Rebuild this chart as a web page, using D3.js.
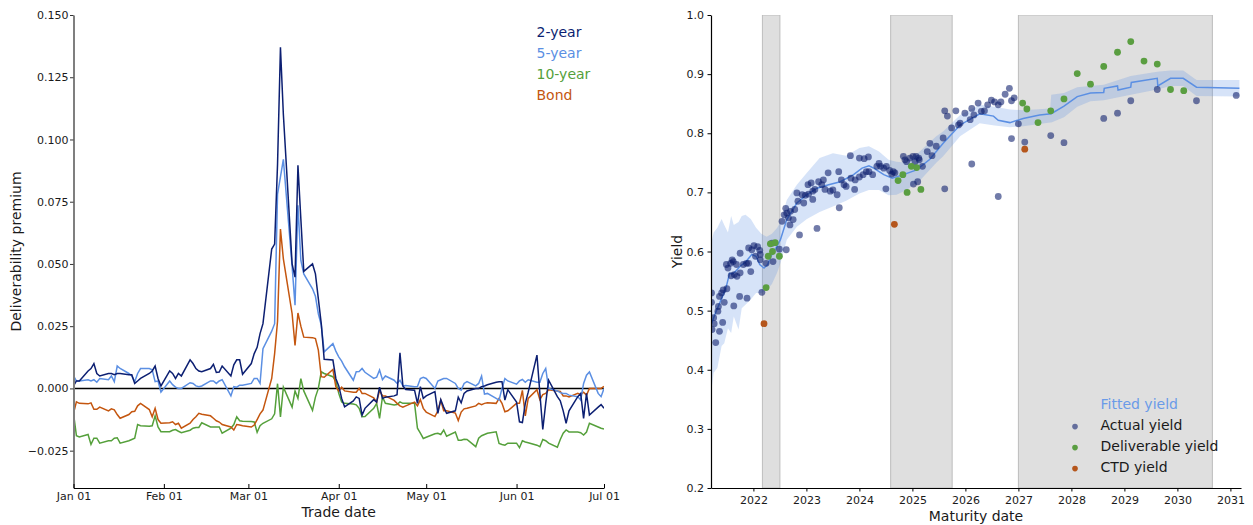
<!DOCTYPE html>
<html>
<head>
<meta charset="utf-8">
<script src="https://cdn.jsdelivr.net/npm/d3@7"></script>
<style>
  body { margin: 0; background: #fff; }
  svg { display: block; font-family: "DejaVu Sans", sans-serif; }
</style>
</head>
<body>
<svg id="chart" width="1253" height="525"></svg>
<script>
// ---------- Deliverability premium by trade date (2020) ----------
// Trading days, one value per weekday from 1 Jan to 1 Jul 2020.
const premiumStart = "2020-01-01";
const premiumEnd = "2020-07-01";
const premiumTicks = ["2020-01-01","2020-02-01","2020-03-01","2020-04-01","2020-05-01","2020-06-01","2020-07-01"];
const premiumYTicks = [-0.025, 0, 0.025, 0.05, 0.075, 0.1, 0.125, 0.15];
const seriesNames = ["2-year", "5-year", "10-year", "Bond"];

const twoYear = [
  0.001, 0.003, 0.003, 0.007, 0.008, 0.010, 0.006, 0.005, 0.006, 0.006, 0.0055, 0.006, 0.006, 0.0055, 0.0055, 0.002, 0.003, 0.004, 0.006, 0.007, 0.009, 0.004, 0.001,
  0.007, 0.006, 0.004, 0.006, 0.005, 0.0115, 0.010, 0.008, 0.007, 0.0067, 0.008, 0.0097, 0.0064, 0.0066, 0.009, 0.005, 0.0095, 0.0115, 0.0115, 0.0057,
  0.010, 0.014, 0.0165, 0.022, 0.026, 0.056, 0.058, 0.090, 0.137, 0.110, 0.050, 0.0447, 0.0896, 0.068, 0.047, 0.050, 0.046, 0.036, 0.026, 0.0117, 0.0114, 0.004,
  0.001, -0.004, -0.0074, -0.005, -0.0034, -0.004, -0.0107, -0.008, -0.0045, -0.0055, 0.0005, -0.004, -0.0035, -0.003, -0.0025, 0.0143, 0.001, -0.0004, -0.0007, -0.006, 0.0007, -0.004,
  -0.003, -0.0013, -0.010, -0.0045, -0.0075, -0.010, -0.009, -0.0035, -0.0058, -0.002, -0.001, 0.0, 0.0, 0.0007, 0.001, 0.0015, 0.0025, 0.0027, 0.0027, -0.0047, -0.0005,
  -0.0055, -0.0134, -0.0137, -0.006, -0.0015, 0.0134, -0.002, -0.0165, -0.006, 0.0033, -0.0033, -0.005, -0.009, -0.014, -0.009, -0.0033, -0.002, -0.012, -0.002, -0.0107, -0.0075, -0.0065,
  -0.008
];
const fiveYear = [
  0.005, 0.003, 0.003, 0.0035, 0.003, 0.0035, 0.0025, 0.004, 0.0035, 0.005, 0.0027, 0.009, 0.008, 0.006, 0.005, 0.0027, 0.006, 0.008, 0.008, 0.0075, 0.0027, 0.003, -0.0015,
  0.003, 0.0015, 0.0005, 0.0, 0.0, 0.0023, 0.002, 0.001, 0.0007, 0.001, 0.003, 0.003, 0.002, 0.003, 0.0035, -0.003, 0.0007, 0.0005, 0.0013, 0.0013,
  0.002, 0.004, 0.004, 0.002, 0.016, 0.023, 0.026, 0.078, 0.085, 0.092, 0.049, 0.0334, 0.0736, 0.0514, 0.046, 0.040, 0.037, 0.030, 0.0255, 0.0147, 0.018, 0.015,
  0.0127, 0.011, 0.0087, 0.0033, 0.0067, 0.0068, 0.008, 0.0065, 0.004, 0.0045, 0.0074, 0.0035, 0.005, 0.0033, 0.002, 0.0033, 0.001, 0.0012, 0.0007, 0.0008, 0.004, 0.0045,
  0.004, 0.0, 0.003, 0.0035, 0.004, 0.004, 0.002, 0.0, -0.0007, 0.002, 0.0027, 0.001, 0.002, 0.005, -0.0023, -0.002, -0.004, -0.0047, 0.0, 0.004, 0.003,
  0.0017, 0.003, 0.0036, 0.0025, 0.0035, 0.0025, 0.0025, 0.006, 0.008, 0.0, -0.001, -0.0017, -0.002, -0.002, -0.0027, -0.0033, -0.0047, 0.002, 0.0053, 0.0066, -0.002, -0.0033,
  0.0
];
const tenYear = [
  -0.010, -0.019, -0.0195, -0.0185, -0.0225, -0.020, -0.020, -0.022, -0.021, -0.021, -0.020, -0.0198, -0.022, -0.021, -0.0205, -0.020, -0.0145, -0.015, -0.0152, -0.015, -0.011, -0.0155, -0.0174,
  -0.0174, -0.0168, -0.0165, -0.0172, -0.0178, -0.0168, -0.016, -0.0157, -0.0157, -0.0138, -0.0155, -0.0155, -0.0155, -0.0155, -0.018, -0.016, -0.0145, -0.0114, -0.013, -0.0132,
  -0.0133, -0.0135, -0.0176, -0.015, -0.014, -0.0122, -0.0102, 0.0019, -0.0115, 0.0005, -0.0075, -0.001, -0.004, 0.0039, -0.001, -0.0088, -0.0035, 0.0, 0.0067, 0.006, 0.0047, 0.003,
  -0.002, -0.0054, -0.006, -0.0063, -0.0066, -0.008, -0.0114, -0.0113, -0.008, -0.006, -0.012, -0.0034, -0.006, -0.0067, -0.0065, -0.0054, -0.006, -0.006, -0.006, -0.016, -0.018, -0.0201,
  -0.0196, -0.0182, -0.018, -0.0185, -0.0167, -0.0192, -0.0175, -0.0208, -0.0208, -0.0204, -0.0205, -0.0234, -0.020, -0.019, -0.0185, -0.018, -0.0174, -0.0221, -0.0225, -0.0228, -0.022,
  -0.022, -0.0238, -0.021, -0.0215, -0.0218, -0.0228, -0.0234, -0.0205, -0.021, -0.022, -0.0236, -0.0205, -0.018, -0.0167, -0.0175, -0.0175, -0.0178, -0.0187, -0.0175, -0.014, -0.0155, -0.016,
  -0.0163
];
const bond = [
  -0.010, -0.0054, -0.006, -0.0062, -0.0058, -0.0084, -0.0084, -0.0075, -0.009, -0.0082, -0.0086, -0.0105, -0.012, -0.0105, -0.0094, -0.0092, -0.007, -0.006, -0.0085, -0.0114, -0.008, -0.0125, -0.014,
  -0.0138, -0.0134, -0.0145, -0.014, -0.016, -0.014, -0.0125, -0.0114, -0.010, -0.0104, -0.011, -0.012, -0.013, -0.0135, -0.0145, -0.0155, -0.0167, -0.0145, -0.0147, -0.015,
  -0.0155, -0.0147, -0.0125, -0.0102, -0.0087, 0.004, 0.014, 0.027, 0.064, 0.052, 0.030, 0.0173, 0.0303, 0.025, 0.0206, 0.0204, 0.020, 0.0154, 0.0047, 0.0045, 0.0076, 0.0007,
  -0.001, 0.0005, -0.001, -0.0015, -0.0015, 0.0, -0.002, -0.002, -0.0038, -0.0055, -0.0008, -0.003, -0.003, -0.0048, -0.006, -0.007, -0.0075, -0.007, -0.0055, -0.007, -0.0045, -0.008,
  -0.0095, -0.0113, -0.009, -0.0048, -0.009, -0.009, -0.0099, -0.0129, -0.0095, -0.0082, -0.008, -0.007, -0.006, -0.0065, -0.006, -0.0058, -0.006, -0.004, -0.006, -0.0094, -0.009,
  -0.006, -0.006, -0.0008, -0.011, -0.004, -0.0005, -0.0045, -0.0025, -0.002, -0.0005, -0.001, -0.0012, -0.003, -0.003, -0.0034, -0.002, -0.0025, -0.0015, -0.0027, 0.0, 0.0, 0.0,
  0.0008
];
const seriesColors = ["#0c1f72", "#5b8fe3", "#55a03b", "#c4560f"];

// ---------- Yield curve by maturity ----------
const maturityTicks = [2022, 2023, 2024, 2025, 2026, 2027, 2028, 2029, 2030, 2031];
const yieldTicks = [0.2, 0.3, 0.4, 0.5, 0.6, 0.7, 0.8, 0.9, 1.0];
// Deliverable maturity windows (start, end) in years
const windowStart = [2022.17, 2024.59, 2027.0];
const windowEnd = [2022.50, 2025.75, 2030.66];

const actualMaturity = [
  2021.21, 2021.21, 2021.22, 2021.25, 2021.26, 2021.29, 2021.33, 2021.34, 2021.36, 2021.36, 2021.40, 2021.42, 2021.43, 2021.45, 2021.49,
  2021.50, 2021.52, 2021.57, 2021.58, 2021.60, 2021.62, 2021.63, 2021.64, 2021.68, 2021.69, 2021.74, 2021.75, 2021.75, 2021.81, 2021.87,
  2021.88, 2021.91, 2021.91, 2021.95, 2021.97, 2022.01, 2022.04, 2022.08, 2022.12, 2022.13, 2022.13, 2022.16, 2022.24, 2022.35, 2022.37,
  2022.49, 2022.54, 2022.58, 2022.61, 2022.62, 2022.63, 2022.66, 2022.69, 2022.70, 2022.75, 2022.78, 2022.82, 2022.84, 2022.87, 2022.92,
  2022.95, 2022.98, 2023.03, 2023.04, 2023.09, 2023.12, 2023.12, 2023.16, 2023.20, 2023.23, 2023.29, 2023.32, 2023.35, 2023.41, 2023.45,
  2023.50, 2023.58, 2023.61, 2023.62, 2023.66, 2023.71, 2023.75, 2023.83, 2023.84, 2023.91, 2023.92, 2024.00, 2024.00, 2024.07, 2024.09,
  2024.13, 2024.17, 2024.18, 2024.25, 2024.33, 2024.37, 2024.40, 2024.46, 2024.50, 2024.51, 2024.57, 2024.61, 2024.64, 2024.67, 2024.83,
  2024.86, 2024.89, 2024.95, 2025.01, 2025.02, 2025.05, 2025.07, 2025.10, 2025.12, 2025.13, 2025.19, 2025.28, 2025.33, 2025.37, 2025.45,
  2025.58, 2025.61, 2025.61, 2025.66, 2025.74, 2025.82, 2025.87, 2025.90, 2025.99, 2026.09, 2026.12, 2026.12, 2026.16, 2026.24, 2026.30,
  2026.36, 2026.42, 2026.49, 2026.55, 2026.62, 2026.62, 2026.67, 2026.75, 2026.83, 2026.87, 2026.87, 2026.92, 2027.00, 2027.12, 2027.61,
  2027.86, 2028.61, 2028.87, 2029.12, 2029.62, 2030.36, 2031.11
];
const actualYield = [
  0.530, 0.514, 0.468, 0.488, 0.478, 0.446, 0.499, 0.507, 0.465, 0.524, 0.530, 0.480, 0.535, 0.514, 0.578,
  0.537, 0.572, 0.580, 0.559, 0.586, 0.583, 0.508, 0.561, 0.578, 0.558, 0.524, 0.597, 0.564, 0.578, 0.580,
  0.521, 0.580, 0.606, 0.566, 0.603, 0.610, 0.592, 0.608, 0.602, 0.586, 0.595, 0.531, 0.580, 0.614, 0.583,
  0.604, 0.651, 0.662, 0.673, 0.603, 0.665, 0.657, 0.645, 0.668, 0.654, 0.671, 0.699, 0.685, 0.628, 0.696,
  0.682, 0.695, 0.713, 0.697, 0.716, 0.688, 0.702, 0.705, 0.639, 0.718, 0.713, 0.721, 0.705, 0.733, 0.702,
  0.704, 0.696, 0.735, 0.674, 0.721, 0.713, 0.710, 0.762, 0.724, 0.705, 0.721, 0.726, 0.758, 0.730, 0.757,
  0.735, 0.760, 0.735, 0.730, 0.744, 0.749, 0.744, 0.741, 0.706, 0.744, 0.737, 0.731, 0.735, 0.733, 0.761,
  0.755, 0.752, 0.758, 0.761, 0.714, 0.752, 0.761, 0.718, 0.758, 0.755, 0.744, 0.769, 0.783, 0.762, 0.778,
  0.792, 0.838, 0.706, 0.829, 0.809, 0.838, 0.814, 0.817, 0.834, 0.823, 0.842, 0.748, 0.831, 0.851, 0.837,
  0.838, 0.848, 0.856, 0.853, 0.848, 0.693, 0.853, 0.866, 0.876, 0.855, 0.791, 0.860, 0.816, 0.785, 0.796,
  0.784, 0.825, 0.834, 0.855, 0.874, 0.855, 0.864
];
const deliverableMaturity = [
  2022.24, 2022.28, 2022.32, 2022.36, 2022.41, 2022.49,
  2024.73, 2024.82, 2024.90, 2024.98, 2025.08, 2025.16,
  2027.08, 2027.16, 2027.37, 2027.61, 2027.86, 2028.11, 2028.36, 2028.61, 2028.87, 2029.12, 2029.37, 2029.62, 2029.87, 2030.12
];
const deliverableYield = [
  0.539, 0.592, 0.613, 0.600, 0.615, 0.592,
  0.720, 0.730, 0.700, 0.744, 0.742, 0.705,
  0.851, 0.841, 0.818, 0.838, 0.858, 0.901, 0.883, 0.913, 0.937, 0.955, 0.922, 0.917, 0.874, 0.872
];
const ctdMaturity = [2022.20, 2024.66, 2027.12];
const ctdYield = [0.478, 0.646, 0.773];

const fittedMaturity = [
  2021.21, 2021.28, 2021.35, 2021.42, 2021.49, 2021.55, 2021.60, 2021.66, 2021.75, 2021.85, 2021.97, 2022.05, 2022.12, 2022.20,
  2022.27, 2022.33, 2022.42, 2022.51, 2022.63, 2022.82, 2023.01, 2023.20, 2023.42, 2023.64, 2023.89, 2024.05, 2024.18, 2024.27,
  2024.46, 2024.62, 2024.83, 2025.08, 2025.33, 2025.58, 2025.90, 2026.27, 2026.53, 2026.62, 2026.84, 2027.09, 2027.40, 2027.62,
  2027.86, 2028.11, 2028.36, 2028.61, 2028.62, 2028.87, 2028.88, 2029.12, 2029.13, 2029.62, 2029.63, 2029.87, 2030.11, 2030.36, 2031.17
];
const fittedYield = [
  0.478, 0.495, 0.510, 0.525, 0.541, 0.563, 0.562, 0.566, 0.575, 0.582, 0.595, 0.592, 0.578, 0.572,
  0.578, 0.592, 0.605, 0.620, 0.654, 0.682, 0.696, 0.707, 0.713, 0.718, 0.730, 0.741, 0.745, 0.741,
  0.730, 0.724, 0.730, 0.738, 0.756, 0.783, 0.814, 0.833, 0.829, 0.822, 0.818, 0.825, 0.831, 0.833,
  0.846, 0.862, 0.868, 0.869, 0.876, 0.880, 0.873, 0.878, 0.886, 0.893, 0.880, 0.893, 0.893, 0.878, 0.876
];
const bandMaturity = [
  2021.20, 2021.25, 2021.32, 2021.40, 2021.45, 2021.52, 2021.58, 2021.63, 2021.72, 2021.78, 2021.85, 2021.95, 2022.05, 2022.15,
  2022.25, 2022.35, 2022.45, 2022.51, 2022.63, 2022.82, 2023.01, 2023.25, 2023.50, 2023.75, 2024.00, 2024.18, 2024.37, 2024.55,
  2024.70, 2024.89, 2025.15, 2025.45, 2025.58, 2025.90, 2026.27, 2026.55, 2026.84, 2027.09, 2027.60, 2027.62, 2027.86, 2028.11,
  2028.36, 2028.61, 2029.12, 2029.62, 2029.87, 2030.11, 2030.36, 2031.17
];
const bandLow = [
  0.360, 0.395, 0.403, 0.440, 0.445, 0.470, 0.462, 0.490, 0.468, 0.504, 0.510, 0.519, 0.530, 0.530,
  0.535, 0.545, 0.565, 0.580, 0.620, 0.642, 0.655, 0.667, 0.676, 0.686, 0.698, 0.704, 0.704, 0.695,
  0.696, 0.704, 0.721, 0.750, 0.761, 0.795, 0.817, 0.813, 0.810, 0.812, 0.818, 0.818, 0.827, 0.845,
  0.854, 0.856, 0.865, 0.874, 0.880, 0.880, 0.863, 0.862
];
const bandHigh = [
  0.612, 0.632, 0.640, 0.655, 0.645, 0.632, 0.660, 0.645, 0.650, 0.660, 0.662, 0.655, 0.640, 0.630,
  0.625, 0.630, 0.640, 0.650, 0.687, 0.713, 0.733, 0.758, 0.766, 0.762, 0.775, 0.778, 0.769, 0.755,
  0.752, 0.750, 0.770, 0.795, 0.803, 0.831, 0.848, 0.845, 0.840, 0.839, 0.842, 0.865, 0.868, 0.878,
  0.880, 0.882, 0.897, 0.904, 0.906, 0.906, 0.890, 0.890
];
const yieldLegend = ["Actual yield", "Deliverable yield", "CTD yield"];
const actualColor = "#0b1c6b";
const deliverableColor = "#5a9e41";
const ctdColor = "#b5561c";
const fittedColor = "#5b8fe3";

// ---------- drawing ----------
const svg = d3.select("#chart");
const textColor = "#1a1a1a";
const parse = d3.utcParse("%Y-%m-%d");

// Left panel
const L = { left: 73.5, right: 604, top: 15, bottom: 488 };
const xL = d3.scaleUtc().domain([parse(premiumStart), parse(premiumEnd)]).range([L.left, L.right]);
const yL = d3.scaleLinear().domain([-0.04, 0.15]).range([L.bottom, L.top]);
const tradeDays = d3.utcDay.range(parse(premiumStart), d3.utcDay.offset(parse(premiumEnd), 1))
  .filter(d => d.getUTCDay() !== 0 && d.getUTCDay() !== 6);

svg.append("clipPath").attr("id", "clipL").append("rect")
  .attr("x", L.left).attr("y", L.top).attr("width", L.right - L.left).attr("height", L.bottom - L.top);

const gL = svg.append("g");
gL.append("line")
  .attr("x1", L.left).attr("x2", L.right).attr("y1", yL(0)).attr("y2", yL(0))
  .attr("stroke", "#000").attr("stroke-width", 1.5);

const seriesData = [twoYear, fiveYear, tenYear, bond];
const lineL = d3.line().x((d, i) => xL(tradeDays[i])).y(d => yL(d));
// Draw order: 10-year, bond, 5-year, 2-year on top
[2, 3, 1, 0].forEach(k => {
  gL.append("path")
    .datum(seriesData[k])
    .attr("clip-path", "url(#clipL)")
    .attr("d", lineL)
    .attr("fill", "none")
    .attr("stroke", seriesColors[k])
    .attr("stroke-width", 1.5)
    .attr("stroke-linejoin", "miter");
});

// Left axes
const axL = gL.append("g").attr("transform", `translate(${L.left},0)`)
  .call(d3.axisLeft(yL).tickValues(premiumYTicks).tickFormat(d3.format(".3f")).tickSizeInner(3.5).tickSizeOuter(0).tickPadding(1.5));
axL.select(".domain").attr("stroke", "#7f7f7f").attr("stroke-width", 2);
axL.selectAll(".tick line").attr("stroke", "#333");
axL.selectAll(".tick text").attr("font-size", 11).attr("fill", textColor).attr("font-family", "DejaVu Sans");

const axLB = gL.append("g").attr("transform", `translate(0,${L.bottom})`)
  .call(d3.axisBottom(xL).tickValues(premiumTicks.map(parse)).tickFormat(d3.utcFormat("%b %d")).tickSizeInner(-4).tickSizeOuter(0).tickPadding(4));
axLB.select(".domain").attr("stroke", "#000").attr("stroke-width", 1.2);
axLB.selectAll(".tick line").attr("stroke", "#000");
axLB.selectAll(".tick text").attr("font-size", 11).attr("fill", textColor).attr("font-family", "DejaVu Sans");

gL.append("text").attr("x", (L.left + L.right) / 2).attr("y", 516.5)
  .attr("text-anchor", "middle").attr("font-size", 14).attr("fill", textColor).text("Trade date");
gL.append("text").attr("transform", `translate(21,${(L.top + L.bottom) / 2}) rotate(-90)`)
  .attr("text-anchor", "middle").attr("font-size", 14).attr("fill", textColor).text("Deliverability premium");

seriesNames.forEach((name, i) => {
  gL.append("text").attr("x", 536.5).attr("y", 37 + i * 21)
    .attr("font-size", 14).attr("fill", seriesColors[i]).text(name);
});

// Right panel
const R = { left: 711, right: 1241, top: 15, bottom: 488 };
const xR = d3.scaleLinear().domain([2021.2, 2031.2]).range([R.left, R.right]);
const yR = d3.scaleLinear().domain([0.2, 1.0]).range([R.bottom, R.top]);

svg.append("clipPath").attr("id", "clipR").append("rect")
  .attr("x", R.left).attr("y", R.top).attr("width", R.right - R.left).attr("height", R.bottom - R.top);
const gR = svg.append("g");
const plotR = gR.append("g").attr("clip-path", "url(#clipR)");

// Deliverable windows
plotR.selectAll("rect.window").data(windowStart).join("rect")
  .attr("class", "window")
  .attr("x", (d, i) => xR(d))
  .attr("width", (d, i) => xR(windowEnd[i]) - xR(d))
  .attr("y", yR(1.0)).attr("height", yR(0.2) - yR(1.0))
  .attr("fill", "#808080").attr("fill-opacity", 0.25)
  .attr("stroke", "#bdbdbd").attr("stroke-width", 1);

// Fitted yield confidence band and line
const area = d3.area()
  .x((d, i) => xR(bandMaturity[i]))
  .y0((d, i) => yR(bandLow[i]))
  .y1((d, i) => yR(bandHigh[i]));
plotR.append("path").datum(bandMaturity).attr("d", area)
  .attr("fill", fittedColor).attr("fill-opacity", 0.25);

const fitLine = d3.line().x((d, i) => xR(fittedMaturity[i])).y(d => yR(d));
plotR.append("path").datum(fittedYield).attr("d", fitLine)
  .attr("fill", "none").attr("stroke", fittedColor).attr("stroke-width", 1.5);

// Points
plotR.append("g").selectAll("circle").data(actualYield).join("circle")
  .attr("cx", (d, i) => xR(actualMaturity[i])).attr("cy", d => yR(d)).attr("r", 3.4)
  .attr("fill", actualColor).attr("fill-opacity", 0.58);
plotR.append("g").selectAll("circle").data(deliverableYield).join("circle")
  .attr("cx", (d, i) => xR(deliverableMaturity[i])).attr("cy", d => yR(d)).attr("r", 3.4)
  .attr("fill", deliverableColor);
plotR.append("g").selectAll("circle").data(ctdYield).join("circle")
  .attr("cx", (d, i) => xR(ctdMaturity[i])).attr("cy", d => yR(d)).attr("r", 3.4)
  .attr("fill", ctdColor);

// Right axes
const axR = gR.append("g").attr("transform", `translate(${R.left},0)`)
  .call(d3.axisLeft(yR).tickValues(yieldTicks).tickFormat(d3.format(".1f")).tickSizeInner(3.5).tickSizeOuter(0).tickPadding(3.5));
axR.select(".domain").attr("stroke", "#000").attr("stroke-width", 1.2);
axR.selectAll(".tick line").attr("stroke", "#000");
axR.selectAll(".tick text").attr("font-size", 11).attr("fill", textColor).attr("font-family", "DejaVu Sans");

const axRB = gR.append("g").attr("transform", `translate(0,${R.bottom})`)
  .call(d3.axisBottom(xR).tickValues(maturityTicks).tickFormat(d3.format("d")).tickSizeInner(3.5).tickSizeOuter(0).tickPadding(4.5));
axRB.select(".domain").attr("stroke", "#000").attr("stroke-width", 1.2);
axRB.selectAll(".tick line").attr("stroke", "#000");
axRB.selectAll(".tick text").attr("font-size", 11).attr("fill", textColor).attr("font-family", "DejaVu Sans");

gR.append("text").attr("x", (R.left + R.right) / 2).attr("y", 521)
  .attr("text-anchor", "middle").attr("font-size", 14).attr("fill", textColor).text("Maturity date");
gR.append("text").attr("transform", `translate(682,${(R.top + R.bottom) / 2}) rotate(-90)`)
  .attr("text-anchor", "middle").attr("font-size", 14).attr("fill", textColor).text("Yield");

// Legend
gR.append("text").attr("x", 1100.5).attr("y", 409.2)
  .attr("font-size", 14).attr("fill", "#6a9be8").text("Fitted yield");
const legendColors = [actualColor, deliverableColor, ctdColor];
const legendOpacity = [0.58, 1, 1];
yieldLegend.forEach((name, i) => {
  const y = 430.2 + i * 21;
  gR.append("circle").attr("cx", 1075).attr("cy", y - 3.6).attr("r", 2.8)
    .attr("fill", legendColors[i]).attr("fill-opacity", legendOpacity[i]);
  gR.append("text").attr("x", 1100.5).attr("y", y)
    .attr("font-size", 14).attr("fill", textColor).text(name);
});
</script>
</body>
</html>
